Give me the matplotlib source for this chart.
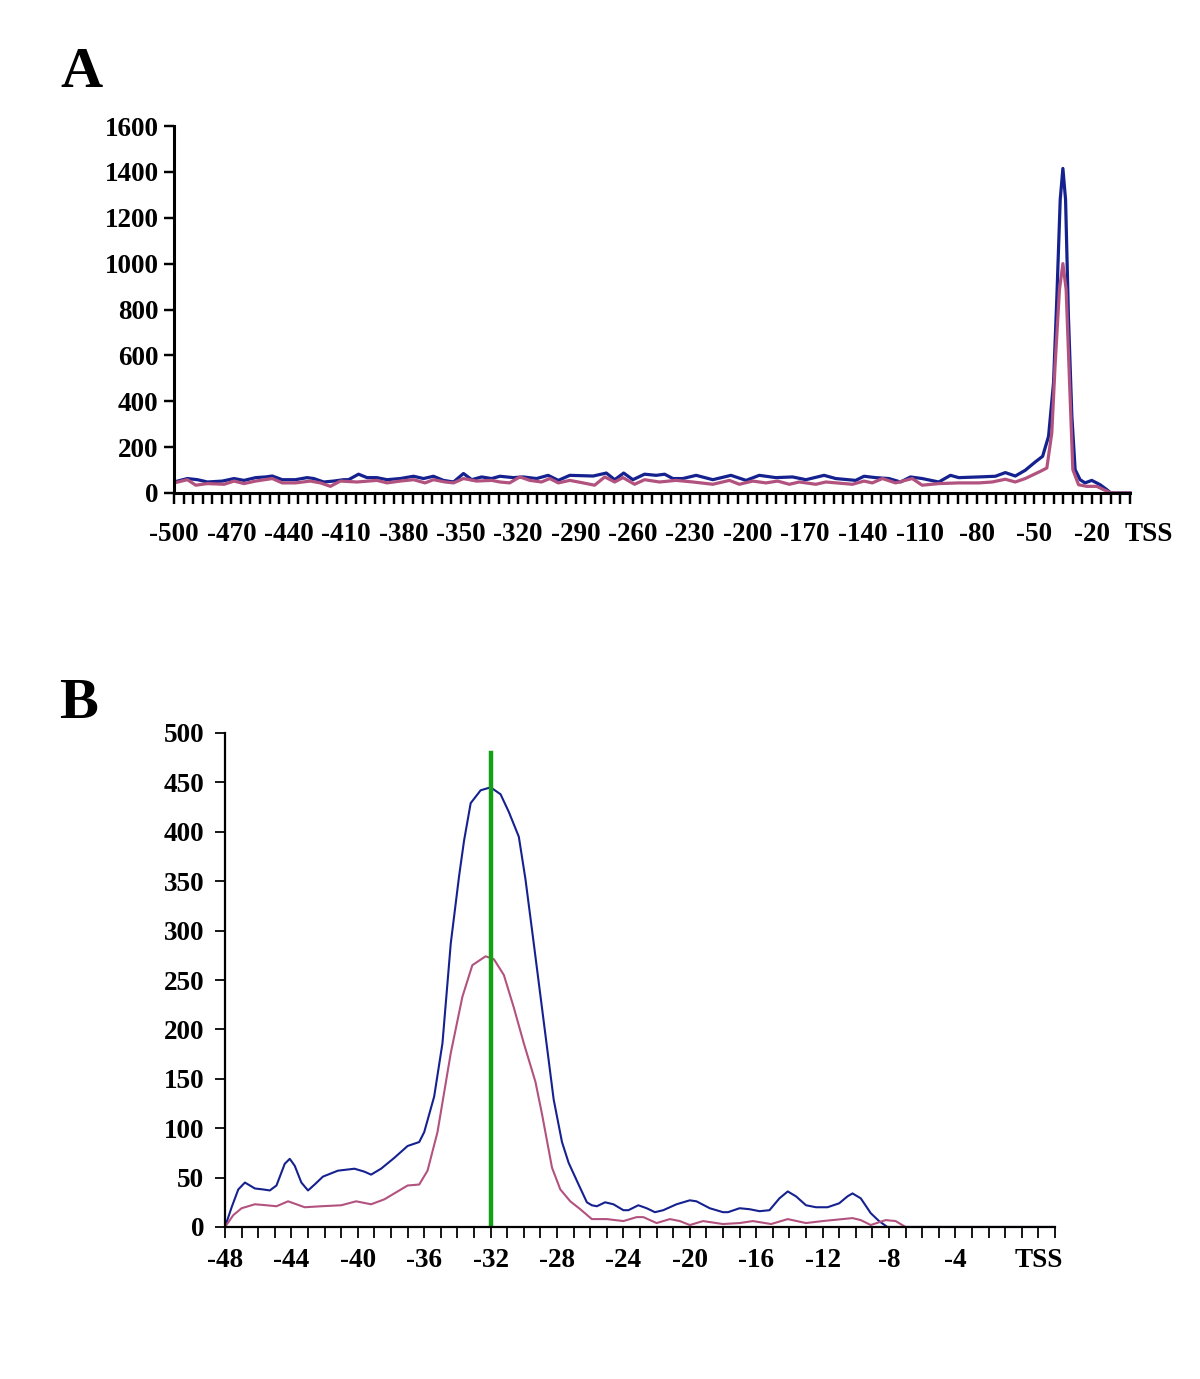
import numpy as np
import matplotlib.pyplot as plt

plt.rcParams['font.family'] = ['Liberation Serif', 'DejaVu Serif']
plt.rcParams['font.weight'] = 'bold'

# ---------------- data, panel A (-500 .. TSS) ----------------
a_blue_x = [-500, -493, -487.7, -482.5, -474.7, -468.6, -463.4, -457.3, -452.1, -448.6,
            -443.4, -436.5, -430.4, -426.9, -421.7, -416.5, -411.3, -408.7, -403.5, -399,
            -393.9, -388.6, -381.7, -374.7, -369.5, -364.3, -359.1, -353.8, -348.6, -344.3,
            -339.1, -333.9, -329.5, -322.5, -317.3, -310.4, -304.3, -299, -293, -280.8,
            -273.9, -269.5, -264.8, -260, -253.9, -247.8, -243.4, -239.1, -233.9, -226.9,
            -218.2, -208.7, -200.8, -193.9, -185.2, -176.5, -169.5, -160, -153.9, -143.5,
            -139.1, -133, -126.1, -120, -114.8, -108.7, -100, -93.9, -89.6, -79.1,
            -70.4, -65.2, -60, -54.8, -49.6, -45.7, -42.6, -40, -38.3, -36.5,
            -35.1, -33.7, -32.2, -30.4, -28.7, -26.1, -23.5, -20, -15.6, -12.2,
            -10, 0]
a_blue_y = [48, 63, 58, 48, 52, 63, 55, 67, 70, 74,
            58, 58, 67, 63, 48, 52, 58, 58, 82, 67,
            67, 58, 63, 73, 63, 73, 55, 48, 85, 58,
            70, 63, 73, 67, 70, 63, 77, 55, 77, 74,
            87, 58, 87, 58, 82, 77, 82, 63, 63, 77,
            58, 77, 55, 77, 67, 70, 58, 77, 63, 55,
            73, 67, 63, 48, 70, 63, 48, 77, 67, 70,
            73, 89, 74, 99, 135, 160, 247, 480, 843, 1279,
            1415, 1279, 770, 334, 102, 58, 44, 55, 36, 15,
            0, 0]

a_pink_x = [-500, -493, -488.6, -482.5, -473.8, -468.6, -463.4, -457.3, -448.6, -443.4,
            -436.5, -428.7, -423.4, -418.2, -413, -404.3, -393.9, -388.6, -381.7, -374.7,
            -368.7, -364.3, -358.2, -353.8, -348.6, -341.7, -333.9, -329.5, -324.5, -319.1,
            -313.9, -307.8, -303.5, -299, -293, -286, -280, -274.7, -269.5, -265.2,
            -259.1, -253.9, -246.1, -237.4, -228.6, -218.2, -209.5, -204.3, -197.3, -190.4,
            -184.3, -178.2, -173, -164.3, -159.1, -145.2, -139.1, -134.8, -129.5, -122.6,
            -113.9, -108.7, -100, -89.6, -79.1, -72.1, -65.2, -60, -54.8, -47,
            -43.5, -40.9, -39.2, -36.9, -35.1, -33.4, -31.6, -29.9, -26.9, -22.6,
            -17.4, -13.9, -10, 0]
a_pink_y = [44, 58, 34, 41, 38, 52, 41, 52, 63, 44,
            44, 52, 44, 29, 52, 48, 55, 44, 52, 58,
            44, 58, 48, 44, 63, 52, 55, 48, 44, 70,
            55, 48, 63, 44, 55, 44, 34, 70, 48, 67,
            38, 58, 48, 55, 48, 38, 55, 38, 52, 44,
            52, 38, 48, 38, 48, 38, 52, 44, 63, 44,
            63, 34, 41, 44, 44, 48, 60, 48, 63, 94,
            109, 262, 553, 887, 1000, 887, 480, 102, 36, 29,
            29, 15, 0, 0]

a_xlabels = ['-500', '-470', '-440', '-410', '-380', '-350', '-320', '-290', '-260',
             '-230', '-200', '-170', '-140', '-110', '-80', '-50', '-20', 'TSS']
a_yticks = [0, 200, 400, 600, 800, 1000, 1200, 1400, 1600]

# ---------------- data, panel B (-48 .. TSS) ----------------
b_blue_x = [-48, -47.6, -47.2, -46.8, -46.2, -45.7, -45.3, -44.9, -44.4, -44.1,
            -43.8, -43.4, -43, -42.6, -42.1, -41.2, -40.2, -39.6, -39.2, -38.6,
            -37.8, -37, -36.3, -36, -35.4, -34.9, -34.4, -33.9, -33.6, -33.2,
            -32.6, -32, -31.4, -30.9, -30.3, -29.9, -29.4, -28.8, -28.2, -27.7,
            -27.3, -26.7, -26.2, -25.9, -25.6, -25.1, -24.6, -24, -23.7, -23.1,
            -22.6, -22.1, -21.6, -20.8, -20, -19.6, -18.8, -18, -17.7, -17,
            -16.4, -15.8, -15.2, -14.6, -14.1, -13.6, -13, -12.4, -11.7, -11,
            -10.5, -10.2, -9.7, -9.1, -8.6, -8.1, 2]
b_blue_y = [0, 20, 38, 45, 39, 38, 37, 42, 64, 69,
            62, 45, 37, 43, 51, 57, 59, 56, 53, 59,
            70, 82, 86, 96, 132, 186, 287, 355, 391, 429,
            442, 445, 438, 420, 395, 352, 287, 208, 129, 86,
            65, 43, 25, 22, 21, 25, 23, 17, 17, 22,
            19, 15, 17, 23, 27, 26, 19, 15, 15, 19,
            18, 16, 17, 29, 36, 31, 22, 20, 20, 24,
            31, 34, 29, 14, 6, 0, 0]

b_pink_x = [-48, -47.5, -47, -46.2, -45.5, -44.9, -44.2, -43.2, -42.2, -41,
            -40.1, -39.2, -38.4, -37, -36.3, -35.8, -35.2, -34.4, -33.7, -33.1,
            -32.3, -31.8, -31.2, -30.6, -30, -29.3, -28.9, -28.3, -27.8, -27.2,
            -26.6, -25.9, -25, -24, -23.2, -22.8, -22, -21.2, -20.6, -20,
            -19.2, -18, -17, -16.2, -15.1, -14.1, -13, -12, -10.2, -9.7,
            -9.1, -8.2, -7.6, -7, 2]
b_pink_y = [0, 12, 19, 23, 22, 21, 26, 20, 21, 22,
            26, 23, 28, 42, 43, 57, 96, 176, 233, 265,
            274, 271, 255, 222, 186, 147, 114, 60, 38, 26,
            18, 8, 8, 6, 10, 10, 4, 8, 6, 2,
            6, 3, 4, 6, 3, 8, 4, 6, 9, 7,
            2, 7, 6, 0, 0]

b_xlabels = ['-48', '-44', '-40', '-36', '-32', '-28', '-24', '-20', '-16', '-12',
             '-8', '-4', 'TSS']
b_yticks = [0, 50, 100, 150, 200, 250, 300, 350, 400, 450, 500]
b_mark = -32
b_mark_top = 480

blue = '#15218f'
pink = '#b2527f'
green = '#14a014'

W, H = 1200, 1379
fig = plt.figure(figsize=(W / 100, H / 100), dpi=100)


def setup(ax, lw, labels, tss_pos, tick_step, x0, x1, yticks, xpad, ypad):
    for s in ['top', 'right']:
        ax.spines[s].set_visible(False)
    for s in ['left', 'bottom']:
        ax.spines[s].set_linewidth(lw)
    ax.spines['bottom'].set_bounds(x0, x1)
    pos = [tss_pos if l == 'TSS' else float(l) for l in labels]
    ax.set_xticks(pos)
    ax.set_xticklabels(labels)
    ax.set_xticks(np.arange(x0, x1 + 0.01, tick_step), minor=True)
    ax.xaxis.remove_overlapping_locs = False
    ax.tick_params(axis='x', which='major', length=0, pad=xpad + 8, labelsize=19.5)
    ax.tick_params(axis='x', which='minor', length=8, width=lw * 0.8, direction='out')
    ax.set_yticks(yticks)
    ax.set_ylim(yticks[0], yticks[-1])
    ax.tick_params(axis='y', length=7, width=lw * 0.8, pad=ypad, labelsize=19.5)


# panel A
xa0, xa1, xa_extra = -500, 0, 12
pxu = (1130 - 174) / (xa1 - xa0)
axA = fig.add_axes([174 / W, 1 - 493 / H, (1130 - 174 + xa_extra * pxu) / W, (493 - 126) / H])
axA.plot(a_blue_x, a_blue_y, color=blue, lw=2.3, solid_joinstyle='round')
axA.plot(a_pink_x, a_pink_y, color=pink, lw=2.3, solid_joinstyle='round')
axA.set_xlim(xa0, xa1 + xa_extra)
setup(axA, 2.2, a_xlabels, 10, 5, xa0, xa1, a_yticks, 13, 4)

# panel B
axB = fig.add_axes([225 / W, 1 - 1227 / H, (1055 - 225) / W, (1227 - 733) / H])
axB.plot(b_blue_x, b_blue_y, color=blue, lw=1.5)
axB.plot(b_pink_x, b_pink_y, color=pink, lw=1.5)
axB.plot([b_mark, b_mark], [0, b_mark_top], color=green, lw=3.2)
axB.set_xlim(-48, 2)
setup(axB, 1.6, b_xlabels, 1, 1, -48, 2, b_yticks, 7, 8)

fig.text(81 / W, 1 - 73 / H, 'A', fontsize=42, ha='center', va='center')
fig.text(79 / W, 1 - 704 / H, 'B', fontsize=42, ha='center', va='center')

fig.savefig('out.png', dpi=100, facecolor='white')
